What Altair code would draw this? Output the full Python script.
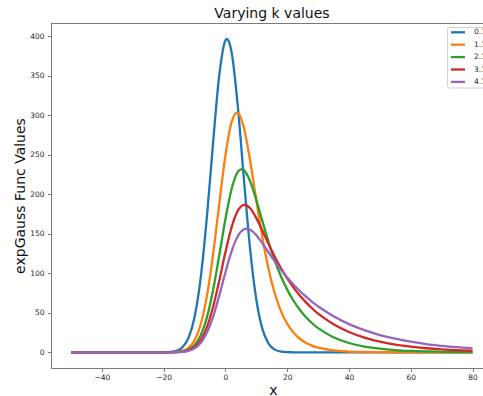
import altair as alt
import pandas as pd

# Sample positions along x
x_vals = [-50, -22, -20, -18, -16, -14, -12, -10, -8, -6, -4, -2, 0, 2, 4, 6, 8, 10,
          12, 14, 16, 18, 20, 22, 24, 26, 28, 30, 35, 40, 45, 50, 55, 60, 65, 70, 75, 80]

k_labels = ["0.1", "1.1", "2.1", "3.1", "4.1"]

k01 = [0, 0.02, 0.1, 0.45, 1.8, 6.1, 17.9, 44.7, 94.9, 172.0, 265.9, 350.9, 395.1, 379.6,
       311.3, 217.9, 130.3, 66.5, 29.0, 10.8, 3.4, 0.9, 0.2, 0.04, 0, 0, 0, 0,
       0, 0, 0, 0, 0, 0, 0, 0, 0, 0]
k11 = [0, 0, 0.02, 0.12, 0.5, 1.8, 5.7, 15.3, 35.6, 71.4, 124.3, 188.3, 249.6, 291.7,
       303.3, 283.7, 242.3, 192.3, 144.5, 104.6, 74.1, 51.9, 36.2, 25.2, 17.5, 12.2, 8.5, 5.9,
       2.4, 0.95, 0.38, 0.16, 0.06, 0.03, 0.01, 0, 0, 0]
k21 = [0, 0, 0.01, 0.07, 0.29, 1.07, 3.37, 9.18, 21.6, 44.2, 78.9, 123.0, 169.1, 207.1,
       228.5, 230.5, 216.5, 192.6, 165.5, 139.2, 115.8, 96.0, 79.4, 65.6, 54.2, 44.8, 37.1, 30.6,
       19.0, 11.8, 7.34, 4.56, 2.83, 1.76, 1.09, 0.68, 0.42, 0.26]
k31 = [0, 0, 0.01, 0.05, 0.2, 0.75, 2.38, 6.54, 15.5, 32.0, 57.6, 90.9, 126.9, 158.5,
       179.4, 186.8, 182.4, 169.9, 153.7, 136.8, 120.8, 106.3, 93.5, 82.2, 72.2, 63.5, 55.8, 49.0,
       35.5, 25.7, 18.7, 13.5, 9.78, 7.09, 5.14, 3.72, 2.69, 1.95]
k41 = [0, 0, 0.01, 0.04, 0.16, 0.58, 1.85, 5.08, 12.1, 25.1, 45.3, 72.0, 101.4, 128.1,
       147.0, 155.7, 155.2, 148.2, 137.8, 126.2, 114.9, 104.4, 94.7, 85.9, 77.9, 70.7, 64.1, 58.2,
       45.6, 35.7, 28.0, 21.9, 17.2, 13.5, 10.5, 8.27, 6.48, 5.08]

series = [k01, k11, k21, k31, k41]
colors = ["#1f77b4", "#ff7f0e", "#2ca02c", "#d62728", "#9467bd"]

rows = []
for label, ys in zip(k_labels, series):
    for xv, yv in zip(x_vals, ys):
        rows.append({"x": xv, "value": yv, "k": label})
df = pd.DataFrame(rows)

# single-row table for the decorations (frame, legend, title)
one = pd.DataFrame({"_": [0]})

W, H = 432, 345
FONT = "DejaVu Sans"
SPINE = "#7a7a7a"
TICK_TXT = "#262626"

x_enc = alt.X(
    "x:Q",
    scale=alt.Scale(domain=[-56.5, 83.4], nice=False, zero=False),
    axis=alt.Axis(
        values=[-40, -20, 0, 20, 40, 60, 80], title="x", grid=False,
        labelFontSize=7.5, labelFont=FONT, labelColor=TICK_TXT, labelPadding=1.5,
        tickSize=3.5, tickColor=SPINE, domainColor=SPINE, domainWidth=1,
        titleFont=FONT, titleFontSize=14, titleFontWeight="normal", titleColor="#111111",
        titleX=222, titleY=26, titleBaseline="alphabetic", titleAlign="center",
    ),
)
y_enc = alt.Y(
    "value:Q",
    scale=alt.Scale(domain=[-19.86, 416.96], nice=False, zero=False),
    axis=alt.Axis(
        values=[0, 50, 100, 150, 200, 250, 300, 350, 400], title="expGauss Func Values",
        grid=False, labelFontSize=7.5, labelFont=FONT, labelColor=TICK_TXT,
        labelPadding=3.5, tickSize=3.5, tickColor=SPINE, domainColor=SPINE, domainWidth=1,
        titleFont=FONT, titleFontSize=14, titleFontWeight="normal", titleColor="#111111",
        titleX=-27, titleY=172.5, titleAngle=270, titleBaseline="alphabetic",
        titleAlign="center",
    ),
)

curves = alt.Chart(df).mark_line(strokeWidth=2.3, interpolate="cardinal", tension=0).encode(
    x=x_enc,
    y=y_enc,
    color=alt.Color("k:N", scale=alt.Scale(domain=k_labels, range=colors), legend=None),
    order=alt.Order("x:Q"),
)

# top spine of the frame
top_spine = alt.Chart(one).mark_rule(color=SPINE, strokeWidth=1).encode(
    x=alt.value(0), x2=alt.value(W), y=alt.value(0.5)
)

# chart title
title = alt.Chart(one).mark_text(
    text="Varying k values", align="center", baseline="alphabetic", font=FONT,
    fontSize=14, color="#111111"
).encode(x=alt.value(221), y=alt.value(-5))

# legend box and entries
legend_box = alt.Chart(one).mark_rect(
    fill="white", stroke="#d0d0d0", strokeWidth=1, cornerRadius=2
).encode(x=alt.value(396.5), x2=alt.value(460), y=alt.value(4.5), y2=alt.value(65))

layers = [curves, top_spine, title, legend_box]
for i, (label, c) in enumerate(zip(k_labels, colors)):
    yy = 9.3 + 12.4 * i
    layers.append(
        alt.Chart(one).mark_rule(color=c, strokeWidth=2.3).encode(
            x=alt.value(400), x2=alt.value(414), y=alt.value(yy)
        )
    )
    layers.append(
        alt.Chart(one).mark_text(
            text=label, align="left", baseline="middle", font=FONT, fontSize=7.5,
            color=TICK_TXT
        ).encode(x=alt.value(423), y=alt.value(yy))
    )

chart = alt.layer(*layers).properties(
    width=W,
    height=H,
    autosize=alt.AutoSizeParams(type="none"),
    padding={"left": 51, "top": 23, "right": 0, "bottom": 28},
).configure_view(stroke=None).configure(background="white")

chart.save("out.html", embed_options={"renderer": "svg", "actions": False})
